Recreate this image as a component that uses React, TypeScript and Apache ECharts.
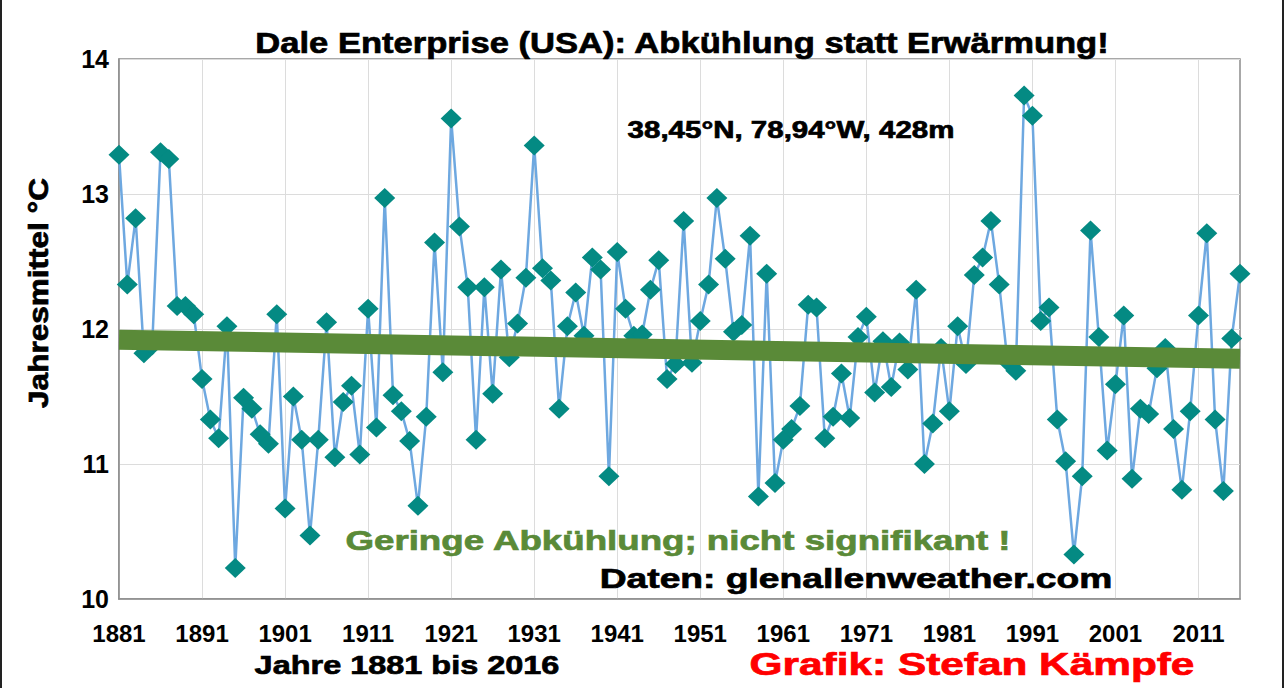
import React, { useEffect, useRef } from "react";
import * as echarts from "echarts";

const START_YEAR = 1881;
const temps: number[] = [
  13.29, 12.33, 12.82, 11.82, 11.88, 13.31, 13.26, 12.17, 12.17, 12.11,
  11.63, 11.33, 11.19, 12.02, 10.23, 11.49, 11.41, 11.22, 11.15, 12.11,
  10.67, 11.5, 11.18, 10.47, 11.18, 12.05, 11.05, 11.46, 11.58, 11.07,
  12.15, 11.27, 12.97, 11.51, 11.39, 11.17, 10.69, 11.35, 12.64, 11.68,
  13.56, 12.76, 12.31, 11.18, 12.31, 11.52, 12.44, 11.79, 12.04, 12.38,
  13.36, 12.45, 12.36, 11.41, 12.02, 12.27, 11.95, 12.53, 12.44, 10.91,
  12.57, 12.15, 11.95, 11.96, 12.29, 12.51, 11.63, 11.74, 12.8, 11.75,
  12.06, 12.33, 12.97, 12.52, 11.98, 12.03, 12.69, 10.76, 12.41, 10.86,
  11.18, 11.26, 11.43, 12.18, 12.16, 11.19, 11.35, 11.67, 11.34, 11.94,
  12.09, 11.53, 11.91, 11.57, 11.9, 11.7, 12.29, 11.0, 11.3, 11.86,
  11.39, 12.02, 11.74, 12.4, 12.53, 12.8, 12.33, 11.76, 11.69, 13.73,
  13.58, 12.06, 12.16, 11.33, 11.02, 10.33, 10.91, 12.73, 11.94, 11.1,
  11.59, 12.1, 10.89, 11.41, 11.37, 11.71, 11.86, 11.26, 10.81, 11.39,
  12.1, 12.71, 11.33, 10.8, 11.93, 12.41,
];
const years: string[] = temps.map((_, i) => String(START_YEAR + i));
// linear trend endpoints
const trendYears: string[] = ["1881", "2016"];
const trendValues: number[] = [11.92, 11.78];
const yTicks = { min: 10, max: 14, interval: 1 };

const FONT = '"Liberation Sans", Arial, sans-serif';

function measure(text: string, font: string): number {
  const c = document.createElement("canvas");
  const ctx = c.getContext("2d");
  if (!ctx) return text.length * 10;
  ctx.font = font;
  return ctx.measureText(text).width || text.length * 10;
}

function fitText(
  text: string,
  cx: number,
  cy: number,
  size: number,
  width: number,
  fill: string,
  rotation = 0
) {
  const font = `bold ${size}px ${FONT}`;
  const w = measure(text, font);
  return {
    type: "text",
    x: cx,
    y: cy,
    rotation,
    scaleX: width / w,
    z: 100,
    style: {
      text,
      font,
      fill,
      stroke: fill,
      lineWidth: 0.7,
      textAlign: "center",
      textVerticalAlign: "middle",
      align: "center",
      verticalAlign: "middle",
    },
  };
}

export default function App() {
  const ref = useRef<HTMLDivElement>(null);
  useEffect(() => {
    if (!ref.current) return;
    const chart = echarts.init(ref.current, null, { renderer: "svg" });
    const option: any = {
      animation: false,
      backgroundColor: "#ffffff",
      grid: {
        left: 119,
        right: 45,
        top: 59,
        bottom: 89,
        show: true,
        borderColor: "#8c8c8c",
        borderWidth: 1.5,
        backgroundColor: "transparent",
      },
      xAxis: {
        type: "category",
        data: years,
        boundaryGap: false,
        axisLine: { show: true, lineStyle: { color: "#8c8c8c", width: 1.5 } },
        axisTick: { show: false },
        axisLabel: {
          interval: (index: number) => index % 10 === 0,
          margin: 22,
          fontFamily: FONT,
          fontWeight: "bold",
          fontSize: 24,
          color: "#000",
        },
        splitLine: {
          show: true,
          interval: (index: number) => index % 10 === 0,
          lineStyle: { color: "#dcdcdc", width: 1 },
        },
      },
      yAxis: {
        type: "value",
        min: yTicks.min,
        max: yTicks.max,
        interval: yTicks.interval,
        axisLine: { show: true, lineStyle: { color: "#8c8c8c", width: 1.5 } },
        axisTick: { show: false },
        axisLabel: {
          margin: 10,
          fontFamily: FONT,
          fontWeight: "bold",
          fontSize: 25,
          color: "#000",
        },
        splitLine: { show: true, lineStyle: { color: "#dcdcdc", width: 1 } },
      },
      series: [
        {
          type: "line",
          data: temps,
          symbol: "diamond",
          symbolSize: [21, 20],
          showAllSymbol: true,
          lineStyle: { color: "#6ea8e0", width: 2.5 },
          itemStyle: { color: "#048a83" },
          z: 2,
        },
        {
          type: "line",
          data: trendYears.map((y, i) => [y, trendValues[i]]),
          symbol: "none",
          lineStyle: { color: "#5a8a38", width: 20 },
          z: 5,
        },
      ],
      graphic: [
        {
          type: "line",
          shape: { x1: 1, y1: 0, x2: 1, y2: 688 },
          style: { stroke: "#222", lineWidth: 2 },
        },
        {
          type: "line",
          shape: { x1: 1283, y1: 0, x2: 1283, y2: 688 },
          style: { stroke: "#222", lineWidth: 2 },
        },
        fitText("Dale Enterprise (USA): Abkühlung statt Erwärmung!", 682, 43, 30, 855, "#000"),
        fitText("38,45°N, 78,94°W, 428m", 791, 130, 24, 327, "#000"),
        fitText("Geringe Abkühlung; nicht signifikant !", 678, 540, 28, 667, "#5a8a38"),
        fitText("Daten: glenallenweather.com", 856, 578, 28, 513, "#000"),
        fitText("Jahre 1881 bis 2016", 407, 665, 26, 305, "#000"),
        fitText("Grafik: Stefan Kämpfe", 972, 664, 32, 445, "#ff0000"),
        fitText("Jahresmittel °C", 38, 293, 27, 230, "#000", Math.PI / 2),
      ],
    };
    chart.setOption(option);
    return () => chart.dispose();
  }, []);
  return (
    <div
      ref={ref}
      style={{ position: "fixed", left: 0, top: 0, width: 1285, height: 688 }}
    />
  );
}
